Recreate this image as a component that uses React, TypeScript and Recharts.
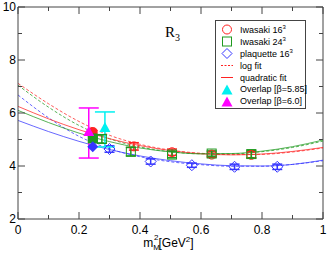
import { ComposedChart, Line, Scatter, XAxis, YAxis, ErrorBar, ReferenceLine, Legend, Customized } from 'recharts';

// fit curves at x = 0, 0.1, ..., 1
const fitX = [0, 0.1, 0.2, 0.3, 0.4, 0.5, 0.6, 0.7, 0.8, 0.9, 1.0];
const iwa16Quad = [6.25, 5.78, 5.37, 5.03, 4.77, 4.58, 4.46, 4.42, 4.45, 4.55, 4.7];
const iwa16Log = [7.12, 6.35, 5.68, 5.16, 4.82, 4.6, 4.48, 4.43, 4.44, 4.53, 4.68];
const iwa24Quad = [6.1, 5.64, 5.24, 4.92, 4.68, 4.53, 4.46, 4.47, 4.56, 4.73, 4.98];
const iwa24Log = [7.05, 6.22, 5.53, 5.03, 4.72, 4.54, 4.46, 4.46, 4.54, 4.7, 4.94];
const plaqQuad = [5.72, 5.3, 4.93, 4.62, 4.38, 4.2, 4.08, 4.01, 4.0, 4.06, 4.22];
const plaqLog = [6.68, 5.82, 5.12, 4.65, 4.35, 4.16, 4.05, 3.99, 3.99, 4.06, 4.2];

// measured points
const iwa16X = [0.38, 0.505, 0.635, 0.765];
const iwa16Y = [4.74, 4.52, 4.43, 4.42];
const iwa16Err = [0.14, 0.12, 0.1, 0.12];
const iwa24X = [0.275, 0.37, 0.505, 0.635, 0.765];
const iwa24Y = [5.02, 4.54, 4.43, 4.47, 4.45];
const iwa24Err = [0.15, 0.16, 0.12, 0.1, 0.14];
const plaqX = [0.3, 0.435, 0.57, 0.71, 0.85];
const plaqY = [4.64, 4.17, 4.03, 3.97, 3.97];
const plaqErr = [0.12, 0.1, 0.08, 0.1, 0.1];

// chiral values at the physical point (filled)
const chiralX = [0.245, 0.245, 0.245];
const chiralY = [5.28, 5.04, 4.73];

// overlap points: [x, y, err low, err high]
const overlap585 = [0.285, 5.43, 0.71, 0.61];
const overlap60 = [0.232, 5.28, 0.98, 0.91];

const xTicks = [0, 0.1, 0.2, 0.3, 0.4, 0.5, 0.6, 0.7, 0.8, 0.9, 1];
const yTicks = [2, 3, 4, 5, 6, 7, 8, 9, 10];

const RED = '#ff2222';
const GREEN = '#1f9a1f';
const BLUE = '#3535ff';
const CYAN = '#00f0f0';
const MAGENTA = '#ff00ff';
const AXIS = '#444';
const FONT = '"Liberation Sans", Arial, sans-serif';

const PLOT_TOP = 7;
const PLOT_RIGHT = 323;

const curve = (ys: number[]) => fitX.map((x, i) => ({ x, y: ys[i] }));
const pts = (xs: number[], ys: number[], errs: number[]) => xs.map((x, i) => ({ x, y: ys[i], err: errs[i] }));

const XTick = (props: any) => {
  const { x, y, payload } = props;
  const v = payload.value;
  const major = Math.abs(v * 5 - Math.round(v * 5)) < 1e-6;
  const len = major ? 7 : 4;
  return (
    <g stroke={AXIS}>
      <line x1={x} y1={y} x2={x} y2={y - len} />
      <line x1={x} y1={PLOT_TOP} x2={x} y2={PLOT_TOP + len} />
      {major && (
        <text x={x} y={y + 15} textAnchor="middle" stroke="none" fill="#000" fontSize={12} fontFamily={FONT}>
          {v}
        </text>
      )}
    </g>
  );
};

const YTick = (props: any) => {
  const { x, y, payload } = props;
  const v = payload.value;
  const major = v % 2 === 0;
  const len = major ? 7 : 4;
  return (
    <g stroke={AXIS}>
      <line x1={x} y1={y} x2={x + len} y2={y} />
      <line x1={PLOT_RIGHT} y1={y} x2={PLOT_RIGHT - len} y2={y} />
      {major && (
        <text x={x - 2} y={y + 4} textAnchor="end" stroke="none" fill="#000" fontSize={12} fontFamily={FONT}>
          {v}
        </text>
      )}
    </g>
  );
};

const OpenCircle = (color: string) => (p: any) => <circle cx={p.cx} cy={p.cy} r={4.5} fill="none" stroke={color} />;
const OpenSquare = (color: string) => (p: any) => (
  <rect x={p.cx - 4.5} y={p.cy - 4.5} width={9} height={9} fill="none" stroke={color} />
);
const diamondPath = (cx: number, cy: number) => `M${cx},${cy - 5.5}L${cx + 5.5},${cy}L${cx},${cy + 5.5}L${cx - 5.5},${cy}Z`;
const OpenDiamond = (color: string) => (p: any) => <path d={diamondPath(p.cx, p.cy)} fill="none" stroke={color} />;
const Triangle = (color: string) => (p: any) => (
  <path d={`M${p.cx},${p.cy - 6}L${p.cx + 5.5},${p.cy + 4}L${p.cx - 5.5},${p.cy + 4}Z`} fill={color} />
);
const ChiralShape = (p: any) => {
  const i = p.index;
  if (i === 0) return <circle cx={p.cx} cy={p.cy} r={5} fill={RED} />;
  if (i === 1) return <rect x={p.cx - 5} y={p.cy - 5} width={10} height={10} fill={GREEN} />;
  return <path d={diamondPath(p.cx, p.cy)} fill={BLUE} />;
};

const legendRows = [
  { kind: 'circle', color: RED, label: 'Iwasaki 16', sup: '3' },
  { kind: 'square', color: GREEN, label: 'Iwasaki 24', sup: '3' },
  { kind: 'diamond', color: BLUE, label: 'plaquette 16', sup: '3' },
  { kind: 'dash', color: RED, label: 'log fit' },
  { kind: 'line', color: RED, label: 'quadratic fit' },
  { kind: 'tri', color: CYAN, label: 'Overlap [\u03b2=5.85]' },
  { kind: 'tri', color: MAGENTA, label: 'Overlap [\u03b2=6.0]' },
];

const LegendSymbol = ({ kind, color }: { kind: string; color: string }) => (
  <svg width={16} height={11} style={{ display: 'block', flexShrink: 0 }}>
    {kind === 'circle' && <circle cx={8} cy={5.5} r={4.5} fill="none" stroke={color} />}
    {kind === 'square' && <rect x={3.5} y={1} width={9} height={9} fill="none" stroke={color} />}
    {kind === 'diamond' && <path d="M8,0.5L13,5.5L8,10.5L3,5.5Z" fill="none" stroke={color} />}
    {kind === 'dash' && <line x1={2} y1={5.5} x2={14} y2={5.5} stroke={color} strokeDasharray="2 1.5" />}
    {kind === 'line' && <line x1={2} y1={5.5} x2={14} y2={5.5} stroke={color} />}
    {kind === 'tri' && <path d="M8,0.5L13.5,10.5L2.5,10.5Z" fill={color} />}
  </svg>
);

const LegendBox = () => (
  <div
    style={{
      width: 91,
      height: 89,
      border: `1px solid ${AXIS}`,
      background: '#fff',
      boxSizing: 'border-box',
      padding: '3px 0 0 3px',
      fontFamily: FONT,
      fontSize: 9,
      color: '#000',
    }}
  >
    {legendRows.map((r) => (
      <div key={r.label} style={{ display: 'flex', alignItems: 'center', height: 11.9 }}>
        <LegendSymbol kind={r.kind} color={r.color} />
        <span style={{ marginLeft: 5, whiteSpace: 'nowrap' }}>
          {r.label}
          {r.sup && <sup style={{ fontSize: 6, verticalAlign: 4 }}>{r.sup}</sup>}
        </span>
      </div>
    ))}
  </div>
);

const XLabel = (props: any) => {
  const vb = props.viewBox;
  const cx = vb.x + vb.width / 2 - 2;
  return (
    <text x={cx} y={vb.y + 28} textAnchor="middle" fontSize={12} fontFamily={FONT} fill="#000">
      m
      <tspan fontSize={8} dy={3}>M</tspan>
      <tspan fontSize={8} dx={-6} dy={-10}>2</tspan>
      <tspan dy={7}>[GeV</tspan>
      <tspan fontSize={8} dy={-5}>2</tspan>
      <tspan dy={5}>]</tspan>
    </text>
  );
};

const Title = () => (
  <text x={165} y={37} fontFamily='"Liberation Serif", "Times New Roman", serif' fontSize={15} fill="#000">
    R<tspan fontSize={10} dy={4}>3</tspan>
  </text>
);

export default function App() {
  return (
    <div style={{ position: 'absolute', left: 0, top: 0 }}>
      <ComposedChart width={327} height={256} margin={{ top: PLOT_TOP, right: 327 - PLOT_RIGHT, left: 0, bottom: 0 }}>
        <XAxis
          type="number"
          dataKey="x"
          domain={[0, 1]}
          ticks={xTicks}
          interval={0}
          height={37}
          tickSize={0}
          tickMargin={0}
          tickLine={false}
          tick={<XTick />}
          stroke={AXIS}
          allowDuplicatedCategory={false}
          label={<XLabel />}
        />
        <YAxis
          type="number"
          dataKey="y"
          domain={[2, 10]}
          ticks={yTicks}
          interval={0}
          width={18}
          tickSize={0}
          tickMargin={0}
          tickLine={false}
          tick={<YTick />}
          stroke={AXIS}
        />
        <ReferenceLine x={1} stroke={AXIS} />
        <ReferenceLine y={10} stroke={AXIS} />

        <Line data={curve(iwa16Log)} dataKey="y" type="monotone" stroke={RED} strokeOpacity={0.75} strokeDasharray="3 2" dot={false} isAnimationActive={false} />
        <Line data={curve(iwa24Log)} dataKey="y" type="monotone" stroke={GREEN} strokeOpacity={0.75} strokeDasharray="3 2" dot={false} isAnimationActive={false} />
        <Line data={curve(plaqLog)} dataKey="y" type="monotone" stroke={BLUE} strokeOpacity={0.75} strokeDasharray="3 2" dot={false} isAnimationActive={false} />
        <Line data={curve(iwa16Quad)} dataKey="y" type="monotone" stroke={RED} strokeOpacity={0.75} dot={false} isAnimationActive={false} />
        <Line data={curve(iwa24Quad)} dataKey="y" type="monotone" stroke={GREEN} strokeOpacity={0.75} dot={false} isAnimationActive={false} />
        <Line data={curve(plaqQuad)} dataKey="y" type="monotone" stroke={BLUE} strokeOpacity={0.75} dot={false} isAnimationActive={false} />

        <Scatter data={pts(iwa16X, iwa16Y, iwa16Err)} dataKey="y" shape={OpenCircle(RED)} isAnimationActive={false}>
          <ErrorBar dataKey="err" direction="y" width={5} stroke={RED} />
        </Scatter>
        <Scatter data={pts(iwa24X, iwa24Y, iwa24Err)} dataKey="y" shape={OpenSquare(GREEN)} isAnimationActive={false}>
          <ErrorBar dataKey="err" direction="y" width={5} stroke={GREEN} />
        </Scatter>
        <Scatter data={pts(plaqX, plaqY, plaqErr)} dataKey="y" shape={OpenDiamond(BLUE)} isAnimationActive={false}>
          <ErrorBar dataKey="err" direction="y" width={5} stroke={BLUE} />
        </Scatter>
        <Scatter data={chiralX.map((x, i) => ({ x, y: chiralY[i] }))} dataKey="y" shape={ChiralShape} isAnimationActive={false} />
        <Scatter data={[{ x: overlap585[0], y: overlap585[1], err: [overlap585[2], overlap585[3]] }]} dataKey="y" shape={Triangle(CYAN)} isAnimationActive={false}>
          <ErrorBar dataKey="err" direction="y" width={10} stroke={CYAN} />
        </Scatter>
        <Scatter data={[{ x: overlap60[0], y: overlap60[1], err: [overlap60[2], overlap60[3]] }]} dataKey="y" shape={Triangle(MAGENTA)} isAnimationActive={false}>
          <ErrorBar dataKey="err" direction="y" width={10} stroke={MAGENTA} />
        </Scatter>

        <Customized component={Title} />
        <Legend
          layout="vertical"
          align="center"
          verticalAlign="middle"
          content={<LegendBox />}
          wrapperStyle={{ position: 'absolute', left: 215, top: 20, width: 'auto' }}
        />
      </ComposedChart>
    </div>
  );
}
